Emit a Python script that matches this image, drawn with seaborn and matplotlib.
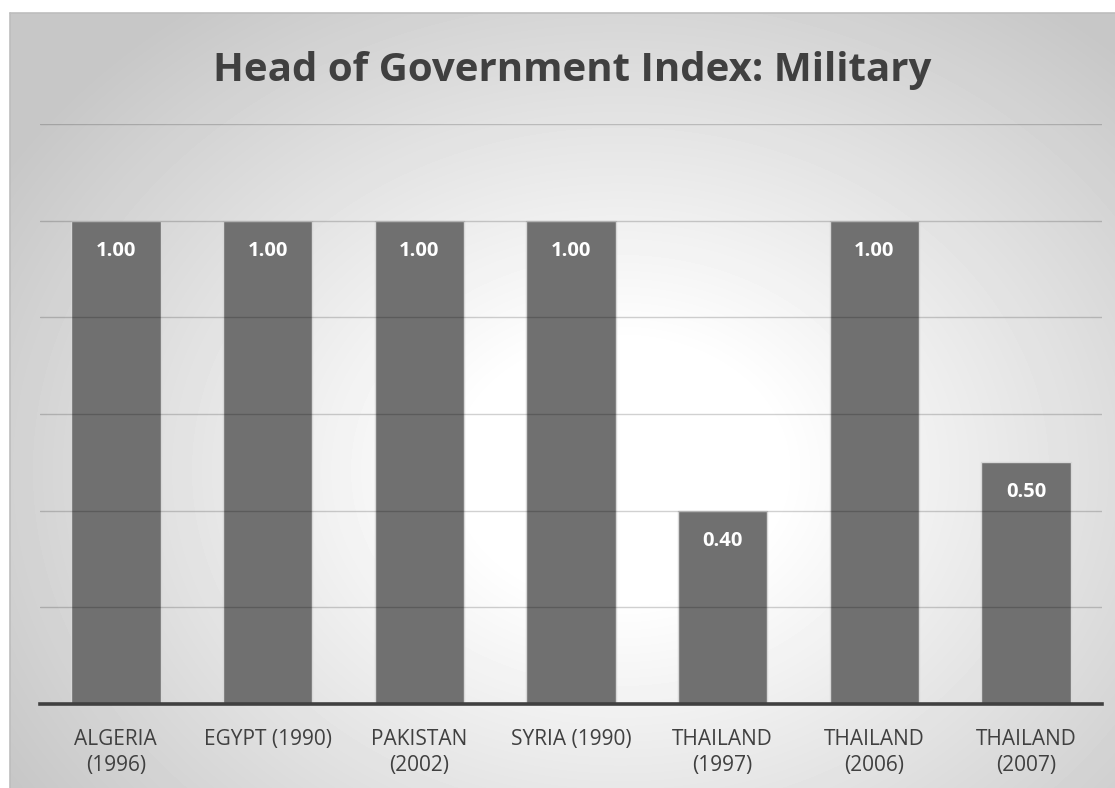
import numpy as np
import pandas as pd
import matplotlib
matplotlib.use("Agg")
import matplotlib.pyplot as plt
import seaborn as sns

categories = ["ALGERIA\n(1996)", "EGYPT (1990)", "PAKISTAN\n(2002)", "SYRIA (1990)",
              "THAILAND\n(1997)", "THAILAND\n(2006)", "THAILAND\n(2007)"]
values = [1.00, 1.00, 1.00, 1.00, 0.40, 1.00, 0.50]
title = "Head of Government Index: Military"

sns.set_theme(style="white")
plt.rcParams["font.family"] = ["Open Sans", "DejaVu Sans"]

W, H = 1115, 788
fig = plt.figure(figsize=(W / 100, H / 100), dpi=100)
fig.patch.set_facecolor("white")

# radial gradient backdrop of the chart area
bg = fig.add_axes([10 / W, 0, 1 - 10 / W, 1 - 13 / H])
yy, xx = np.mgrid[0:H - 13, 0:W - 10]
cx, cy = 620 - 10, 470 - 13
d = np.hypot((xx - cx) / 1.0, (yy - cy) / 0.8)
t = np.clip((d - 160) / 560, 0, 1)
shade = 1.0 - t * (1.0 - 0.78)
bg.imshow(shade, cmap="gray", vmin=0, vmax=1, aspect="auto",
          interpolation="bilinear")
bg.set_axis_off()
fig.add_artist(plt.Line2D([10 / W, 1], [1 - 13 / H, 1 - 13 / H],
                          color="#bdbdbd", lw=1.2))
fig.add_artist(plt.Line2D([10 / W, 10 / W], [0, 1 - 13 / H],
                          color="#bdbdbd", lw=1.2))

ax = fig.add_axes([40 / W, (H - 704) / H, (1102 - 40) / W, (704 - 124) / H])
ax.patch.set_alpha(0)

df = pd.DataFrame({"category": categories, "value": values})
sns.barplot(data=df, x="category", y="value", color="#707070", saturation=1,
            width=0.59, edgecolor="#d8d8d8", linewidth=1.0, ax=ax, zorder=2)

ax.set_ylim(0, 1.2)
ax.set_xlim(-0.5, len(categories) - 0.5)
ax.set_yticks(np.arange(0.2, 1.21, 0.2))
ax.set_yticklabels([])
ax.tick_params(axis="y", length=0)
ax.yaxis.grid(True, color="black", alpha=0.18, lw=1.0, zorder=3)
ax.set_axisbelow(False)
for s in ["top", "right", "left"]:
    ax.spines[s].set_visible(False)
ax.spines["bottom"].set_color("#404040")
ax.spines["bottom"].set_linewidth(2.6)
ax.spines["bottom"].set_zorder(4)
ax.set_xlabel("")
ax.set_ylabel("")
ax.tick_params(axis="x", length=0, pad=18, labelsize=15, labelcolor="#404040")
for lbl in ax.get_xticklabels():
    lbl.set_linespacing(1.3)

for i, v in enumerate(values):
    ax.annotate(f"{v:.2f}", (i, v), xytext=(0, -21.5), textcoords="offset points",
                ha="center", va="center", color="white", fontsize=14.5,
                fontweight="bold", zorder=5)

fig.text(572 / W, 1 - 70 / H, title, ha="center", va="center",
         fontsize=29, fontweight="bold", color="#404040")

fig.savefig("out.png", dpi=100)
